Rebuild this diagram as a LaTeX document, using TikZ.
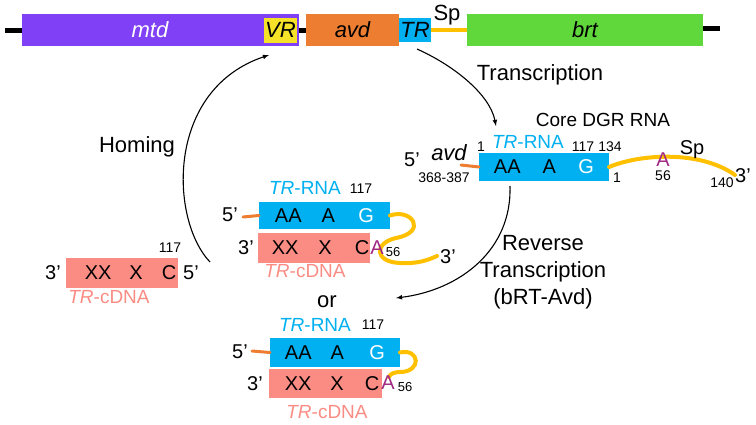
\documentclass[tikz,border=0pt]{standalone}
\usepackage{fontspec}
\setmainfont{Liberation Sans}
\definecolor{mtdpurple}{RGB}{128,64,245}
\definecolor{vryellow}{RGB}{245,225,40}
\definecolor{avdorange}{RGB}{237,125,49}
\definecolor{trblue}{RGB}{0,176,240}
\definecolor{brtgreen}{RGB}{96,216,60}
\definecolor{spyellow}{RGB}{255,192,0}
\definecolor{cdnapink}{RGB}{250,140,132}
\definecolor{apurple}{RGB}{160,40,130}

\begin{document}
\begin{tikzpicture}[x=1pt,y=-1pt,
  gene/.style={inner sep=0pt,outer sep=0pt,minimum height=32pt,font=\fontsize{22}{26}\selectfont\itshape},
  rna/.style={fill=trblue,inner sep=0pt,outer sep=0pt,minimum width=130pt,minimum height=28pt,font=\fontsize{20}{24}\selectfont},
  cdna/.style={fill=cdnapink,inner sep=0pt,outer sep=0pt,minimum width=112pt,minimum height=30pt,font=\fontsize{20}{24}\selectfont},
  lbl/.style={inner sep=0pt,font=\fontsize{22}{27}\selectfont},
  prime/.style={inner sep=0pt,font=\fontsize{20}{24}\selectfont},
  num/.style={inner sep=0pt,font=\fontsize{14}{16}\selectfont},
  rnalbl/.style={inner sep=0pt,text=trblue,font=\fontsize{19}{22}\selectfont},
  cdnalbl/.style={inner sep=0pt,text=cdnapink,font=\fontsize{19}{22}\selectfont},
  tail/.style={spyellow,line width=4pt,line cap=round},
  stub/.style={avdorange,line width=3pt,line cap=round},
  arr/.style={-latex,line width=1.1pt}]
\useasboundingbox (0,0) rectangle (756,424);
% genome
\node[gene,fill=mtdpurple,minimum width=277pt] (mtd) at (160.5,30) {};
\node[gene,text=white] (mtdlbl) at (150,30) {mtd};
\node[gene,fill=vryellow,minimum width=33pt,minimum height=25pt] (vr) at (280.5,30) {VR};
\node[gene,fill=avdorange,minimum width=93pt] (avd) at (352.5,30) {avd};
\node[gene,fill=trblue,minimum width=32pt,minimum height=24pt] (tr) at (415,30) {TR};
\node[gene,fill=brtgreen,minimum width=236pt] (brt) at (585,30) {brt};
\coordinate (left) at (5,30);
\coordinate (right) at (720,28);
\draw[line width=5pt] (left) -- (mtd.west);
\draw[line width=5pt] (mtd.east) -- (avd.west);
\draw[line width=5pt] (brt.east |- right) -- (right);
\draw[spyellow,line width=4pt] (tr.east) -- (brt.west);
\node[lbl] (sp) at (447,15) {Sp};

% core DGR RNA
\node[rna] (core) at (544,167) {AA\hspace{22pt}A\hspace{22.5pt}\textcolor{white}{G}\hspace{8.5pt}};
\coordinate (corestub) at (461,165);
\coordinate (coreend) at (735,175);
\draw[stub] (corestub) -- (core.west);
\draw[tail] (core.east) .. controls (640,154) and (700,150) .. (coreend);
\node[lbl] (corelbl) at (603,120) {\fontsize{19}{22}\selectfont Core DGR RNA};
\node[prime] (c5) at (412,160) {5’};
\node[lbl,font=\fontsize{22}{26}\selectfont\itshape] (cavd) at (449,153) {avd};
\node[num] (c368) at (444,178) {368-387};
\node[num] (c1a) at (481,147) {1};
\node[rnalbl] (ctr) at (528,142) {\textit{TR}-RNA};
\node[num] (c117) at (583,147) {117};
\node[num] (c134) at (610,147) {134};
\node[num] (c1b) at (617,178) {1};
\node[prime,text=apurple] (ca) at (663,160) {A};
\node[num] (c56) at (663,176) {56};
\node[prime] (csp) at (692,150) {Sp};
\node[num] (c140) at (722,183) {140};
\node[prime] (c3) at (743,176) {3’};

% hybrid after reverse transcription
\node[rna,minimum width=131pt,minimum height=27pt] (mrna) at (324.5,215.5) {AA\hspace{20pt}A\hspace{23.5pt}\textcolor{white}{G}\hspace{6.5pt}};
\node[cdna] (mcdna) at (314,248) {\hspace{13pt}XX\hspace{20pt}X\hspace{23pt}C};
\coordinate (mstub) at (243,217);
\coordinate (mend) at (437,256);
\draw[stub] (mstub) -- (mrna.west);
\draw[tail] (mrna.east) .. controls (412,208) and (428,232) .. (396,238)
  .. controls (374,243) and (374,262) .. (400,263) .. controls (418,264) and (428,260) .. (mend);
\node[rnalbl] (mtr) at (305,188) {\textit{TR}-RNA};
\node[num] (m117) at (361,189) {117};
\node[prime] (m5) at (230,215) {5’};
\node[prime] (m3a) at (246,248) {3’};
\node[prime,text=apurple] (ma) at (377,248) {A};
\node[num,font=\fontsize{13}{15}\selectfont] (m56) at (393,252) {56};
\node[prime] (m3b) at (448,257) {3’};
\node[cdnalbl] (mcd) at (305,271) {\textit{TR}-cDNA};

% cDNA after homing
\node[cdna] (lcdna) at (122,273) {\hspace{17pt}XX\hspace{18pt}X\hspace{19pt}C};
\node[prime] (l3) at (53,273) {3’};
\node[prime] (l5) at (191,273) {5’};
\node[num] (l117) at (170,248) {117};
\node[cdnalbl] (lcd) at (109,297) {\textit{TR}-cDNA};

% second product
\node[lbl] (or) at (327,302) {or};
\node[rna,minimum height=29pt] (brna) at (335,352.5) {AA\hspace{19pt}A\hspace{25.5pt}\textcolor{white}{G}\hspace{0.5pt}};
\node[cdna,minimum width=113pt,minimum height=29pt] (bcdna) at (325.5,383.5) {\hspace{13pt}XX\hspace{19pt}X\hspace{21pt}C};
\coordinate (bstub) at (252,351);
\coordinate (bend) at (389,377);
\draw[stub] (bstub) -- (brna.west);
\draw[tail] (brna.east) .. controls (420,348) and (422,372) .. (400,372) .. controls (394,372) and (390,374) .. (bend);
\node[rnalbl] (btr) at (315,325) {\textit{TR}-RNA};
\node[num] (b117) at (373,325) {117};
\node[prime] (b5) at (240,352) {5’};
\node[prime] (b3) at (255,384) {3’};
\node[prime,text=apurple] (ba) at (388,383) {A};
\node[num,font=\fontsize{13}{15}\selectfont] (b56) at (405,387) {56};
\node[cdnalbl] (bcd) at (327,412) {\textit{TR}-cDNA};

% cycle arrows
\coordinate (tx0) at (417,49);
\coordinate (tx1) at (496,126);
\draw[arr] (tx0) .. controls (455,66) and (490,95) .. (tx1);
\node[lbl] (txlbl) at (540,75) {Transcription};
\coordinate (rt0) at (510,186);
\coordinate (rt1) at (396,298);
\draw[arr] (rt0) .. controls (512,250) and (460,290) .. (rt1);
\node[lbl,align=center] (rtlbl) at (543,272) {Reverse\\Transcription\\(bRT-Avd)};
\coordinate (hm0) at (210,262);
\coordinate (hm1) at (269,55);
\draw[arr] (hm0) .. controls (170,220) and (165,90) .. (hm1);
\node[lbl] (hmlbl) at (137,147) {Homing};
\end{tikzpicture}
\end{document}
